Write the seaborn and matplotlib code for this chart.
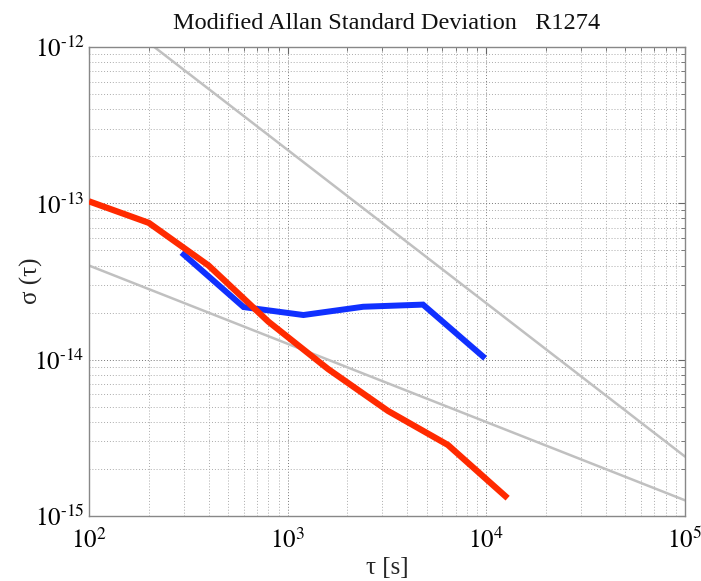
import matplotlib
matplotlib.use("Agg")
import matplotlib.pyplot as plt
import seaborn as sns
import pandas as pd
import numpy as np
from matplotlib.ticker import LogLocator, FuncFormatter, NullFormatter

# ---- data ----
tau_red = [100, 200, 400, 800, 1600, 3200, 6400, 12800]
sig_red = [1.03e-13, 7.5e-14, 4.0e-14, 1.75e-14, 8.7e-15, 4.7e-15, 2.85e-15, 1.3e-15]
tau_blue = [300, 600, 1200, 2400, 4800, 9600]
sig_blue = [4.7e-14, 2.17e-14, 1.93e-14, 2.18e-14, 2.25e-14, 1.05e-14]
tau_ref = [100, 100000]
sig_ref1 = [2.1e-12, 2.4e-15]
sig_ref2 = [4.0e-14, 1.26e-15]

title = "Modified Allan Standard Deviation   R1274"
xlabel = "τ [s]"
ylabel = "σ (τ)"
xlim = (1e2, 1e5)
ylim = (1e-15, 1e-12)

sns.set_theme(style="white")
plt.rcParams["font.family"] = ["Liberation Serif", "DejaVu Serif"]
plt.rcParams["mathtext.fontset"] = "stix"
plt.rcParams["axes.unicode_minus"] = False

fig = plt.figure(figsize=(7.01, 5.81), dpi=100)
ax = fig.add_axes([89/701, 1-516/581, (685-89)/701, (516-47)/581])

df_ref1 = pd.DataFrame({"tau": tau_ref, "sig": sig_ref1})
df_ref2 = pd.DataFrame({"tau": tau_ref, "sig": sig_ref2})
df_red = pd.DataFrame({"tau": tau_red, "sig": sig_red})
df_blue = pd.DataFrame({"tau": tau_blue, "sig": sig_blue})

sns.lineplot(data=df_ref1, x="tau", y="sig", ax=ax, color="#c0c0c0", lw=1.8, zorder=2)
sns.lineplot(data=df_ref2, x="tau", y="sig", ax=ax, color="#c0c0c0", lw=1.8, zorder=2)
sns.lineplot(data=df_blue, x="tau", y="sig", ax=ax, color="#1030ff", lw=4.3, zorder=3,
             solid_capstyle="projecting", solid_joinstyle="miter")
sns.lineplot(data=df_red, x="tau", y="sig", ax=ax, color="#ff2a00", lw=4.5, zorder=4,
             solid_capstyle="butt")

ax.set_xscale("log")
ax.set_yscale("log")
ax.set_xlim(*xlim)
ax.set_ylim(*ylim)


def make_fmt(lo, hi):
    def fmt(v, pos):
        if v < lo * 0.999 or v > hi * 1.001:
            return ""
        e = int(round(np.log10(v)))
        if e < 0:
            return r"$10^{\text{-}%d}$" % (-e)
        return r"$10^{%d}$" % e
    return fmt


ax.xaxis.set_major_locator(LogLocator(base=10, numticks=10))
ax.yaxis.set_major_locator(LogLocator(base=10, numticks=10))
ax.xaxis.set_minor_locator(LogLocator(base=10, subs=range(2, 10), numticks=20))
ax.yaxis.set_minor_locator(LogLocator(base=10, subs=range(2, 10), numticks=20))
ax.xaxis.set_major_formatter(FuncFormatter(make_fmt(*xlim)))
ax.yaxis.set_major_formatter(FuncFormatter(make_fmt(*ylim)))
ax.xaxis.set_minor_formatter(NullFormatter())
ax.yaxis.set_minor_formatter(NullFormatter())

ax.grid(True, which="major", ls=(0, (1, 2)), color="#777777", lw=0.7)
ax.grid(True, which="minor", ls=(0, (1, 2)), color="#aaaaaa", lw=0.7)

for s in ax.spines.values():
    s.set_color("#888888")
    s.set_linewidth(1.0)

ax.tick_params(which="both", direction="in", top=True, right=True, colors="#666666",
               labelcolor="black")
ax.tick_params(which="major", length=5, width=0.8)
ax.tick_params(which="minor", length=3, width=0.6)
ax.tick_params(axis="x", which="major", labelsize=18, pad=8.5)
ax.tick_params(axis="y", which="major", labelsize=18, pad=3)

ax.set_title(title, fontsize=17.5, pad=13, color="#111111")
ax.set_xlabel(xlabel, fontsize=18)
ax.set_ylabel(ylabel, fontsize=18)
ax.xaxis.label.set_va("top")
ax.xaxis.set_label_coords(0.5, (516-557)/469)
ax.yaxis.label.set_va("center")
ax.yaxis.set_label_coords((31-89)/596, (516-281)/469)

fig.savefig("out.png", dpi=100)
